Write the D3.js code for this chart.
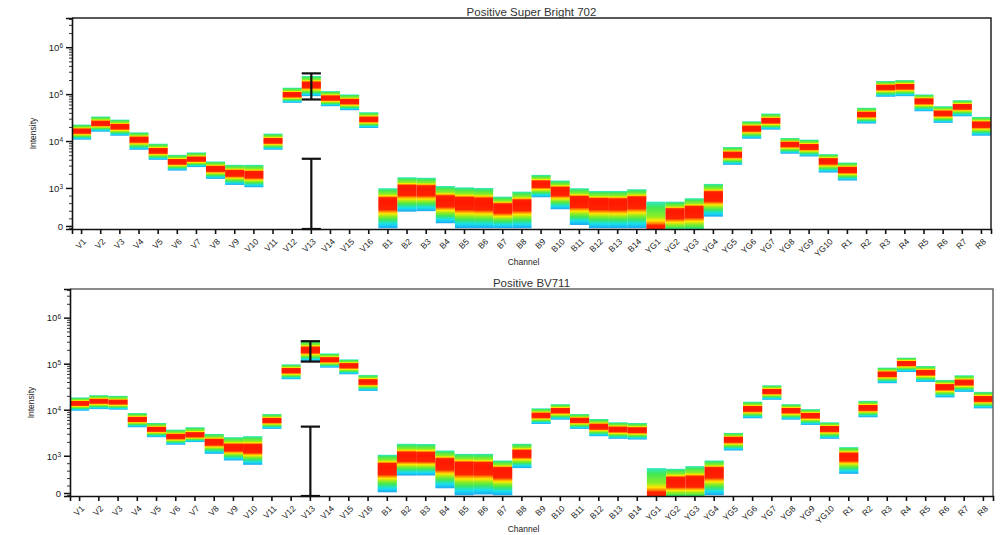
<!DOCTYPE html>
<html>
<head>
<meta charset="utf-8">
<script src="https://cdn.jsdelivr.net/npm/d3@7"></script>
<style>
  body { margin: 0; background: #ffffff; }
  svg { display: block; }
  text { font-family: "Liberation Sans", Arial, sans-serif; fill: #222; }
</style>
</head>
<body>
<svg id="chart" width="1005" height="535"></svg>
<script>
// Detector channels, laser by laser
const channels = [
  "V1","V2","V3","V4","V5","V6","V7","V8","V9","V10","V11","V12","V13","V14","V15","V16",
  "B1","B2","B3","B4","B5","B6","B7","B8","B9","B10","B11","B12","B13","B14",
  "YG1","YG2","YG3","YG4","YG5","YG6","YG7","YG8","YG9","YG10",
  "R1","R2","R3","R4","R5","R6","R7","R8"
];

// Positive Super Bright 702: median, upper and lower edge of each channel's distribution
const sb702Median = [16700,24400,20600,11100,6300,3660,4190,2640,2130,1970,10300,98400,161000,83600,70600,29600,
  639,986,970,684,639,620,508,597,1260,947,684,639,630,684,
  -250,376,421,816,5260,19000,27700,8770,7670,3850,
  2520,37900,144000,148000,73100,39900,55200,23200];
const sb702High = [22400,33300,28600,15300,8770,5080,5710,3660,3110,3110,14400,137000,243000,116000,98400,41100,
  992,1690,1650,1100,1030,1000,771,903,1900,1440,992,921,921,966,
  639,639,729,1220,7450,26400,38500,11600,10700,5260,
  3480,51100,190000,199000,98400,55200,74300,32700];
const sb702Low = [10700,15800,13000,6520,3980,2350,2780,1560,1160,1035,6520,65300,90400,55200,45400,19000,
  -60,376,390,71,-60,-60,-60,-60,755,439,26,-60,-60,-60,
  -600,-250,-250,245,3110,11200,17500,5360,4690,2130,
  1440,23600,87900,90400,43200,24400,33700,13000];
// Range markers on the peak channel
const sb702Ranges = [
  { channel: "V13", low: 76900, high: 277000 },
  { channel: "V13", low: -80, high: 4190 }
];

// Positive BV711
const bv711Median = [13900,15600,14900,6280,3830,2660,2840,2040,1540,1490,5980,71800,204000,124000,92000,40900,
  695,1015,1000,830,738,720,603,1160,7670,9840,6070,4370,3830,3690,
  -250,332,332,603,2330,10700,25600,9840,7670,3960,
  1015,11200,60900,105000,65900,31900,40100,17600];
const bv711High = [18500,20700,20000,8470,5150,3690,4160,2980,2530,2660,8050,96800,308000,167000,124000,56900,
  1050,1820,1800,1300,1100,1100,873,1820,10700,13200,8050,6280,5330,5150,
  668,649,721,873,3130,14900,34000,13200,10300,5330,
  1540,15600,82000,135000,88900,44400,56000,24400];
const bv711Low = [9500,10300,10000,4160,2530,1730,1980,1100,873,757,3830,45900,114000,82000,58900,25600,
  19,468,470,127,-60,-40,-60,668,4900,6070,3830,2660,2330,2250,
  -600,-250,-250,-60,1300,6510,16400,6070,4670,2330,
  514,6850,37600,65900,40100,18500,24400,10700];
const bv711Ranges = [
  { channel: "V13", low: 111000, high: 308000 },
  { channel: "V13", low: -80, high: 4290 }
];

// Intensity axis ticks
const majorTicks = [0, 1e3, 1e4, 1e5, 1e6];
const majorLabels = ["0", "10|3", "10|4", "10|5", "10|6"];

// Biexponential-style transform: logarithmic above 10^3, linear below it
const LIN_DECADES = 0.81;
const tf = v => v >= 1000 ? Math.log10(v) : 3 - LIN_DECADES * (1 - v / 1000);
const AXIS_MIN = -80, AXIS_MAX = 4194304;

const minorTicks = [];
[-50, 200, 400, 600, 800].forEach(v => minorTicks.push(v));
for (let e = 3; e <= 6; e++) for (let k = 2; k <= 9; k++) {
  const v = k * Math.pow(10, e);
  if (v <= AXIS_MAX) minorTicks.push(v);
}

const panels = [
  { id: "sb702", title: "Positive Super Bright 702", median: sb702Median, high: sb702High, low: sb702Low,
    ranges: sb702Ranges, box: { left: 72, right: 991, top: 18, bottom: 229 }, titleY: 16, frame: "#222" },
  { id: "bv711", title: "Positive BV711", median: bv711Median, high: bv711High, low: bv711Low,
    ranges: bv711Ranges, box: { left: 70, right: 993, top: 289, bottom: 496 }, titleY: 287, frame: "#666" }
];

// Colour ramp from the distribution edge in to the median
const outerStops = [
  [0.00, "#2fe9c9"], [0.16, "#3fe75a"], [0.44, "#8eec22"], [0.56, "#ffe800"],
  [0.64, "#ff8a00"], [0.70, "#ff2400"], [1.00, "#ff1800"]
];
const innerStops = [
  [0.00, "#ff1800"], [0.30, "#ff2400"], [0.37, "#ff8a00"], [0.45, "#ffe800"],
  [0.56, "#8eec22"], [0.68, "#3fe75a"], [0.84, "#17dfee"], [1.00, "#1ea6f2"]
];

const svg = d3.select("#chart");
const defs = svg.append("defs");

panels.forEach(p => {
  const b = p.box;
  const x = d3.scaleBand().domain(channels).range([b.left, b.right]).padding(0);
  const y = d3.scaleLinear().domain([tf(AXIS_MIN), Math.log10(AXIS_MAX)]).range([b.bottom, b.top]);
  const yv = v => y(tf(v));

  defs.append("clipPath").attr("id", "clip-" + p.id)
    .append("rect").attr("x", b.left).attr("y", b.top)
    .attr("width", b.right - b.left).attr("height", b.bottom - b.top);

  const g = svg.append("g");

  // Per-channel distribution bands
  const bands = g.append("g").attr("clip-path", `url(#clip-${p.id})`);
  channels.forEach((ch, i) => {
    const yTop = yv(p.high[i]), yBot = yv(p.low[i]), yMed = yv(p.median[i]);
    const h = yBot - yTop;
    const m = Math.max(0, Math.min(1, (yMed - yTop) / h));
    const gid = `grad-${p.id}-${i}`;
    const grad = defs.append("linearGradient").attr("id", gid)
      .attr("x1", 0).attr("y1", 0).attr("x2", 0).attr("y2", 1);
    outerStops.forEach(([o, c]) => grad.append("stop").attr("offset", o * m).attr("stop-color", c));
    innerStops.forEach(([o, c]) => grad.append("stop").attr("offset", m + o * (1 - m)).attr("stop-color", c));
    bands.append("rect")
      .attr("x", x(ch)).attr("y", yTop)
      .attr("width", x.bandwidth()).attr("height", h)
      .attr("fill", `url(#${gid})`);
  });

  // Range markers
  p.ranges.forEach(r => {
    const cx = x(r.channel) + x.bandwidth() / 2;
    const half = x.bandwidth() / 2;
    const y1 = yv(r.high), y2 = yv(r.low);
    const rg = g.append("g").attr("stroke", "#111").attr("stroke-width", 2.2);
    rg.append("line").attr("x1", cx).attr("x2", cx).attr("y1", y1).attr("y2", y2);
    rg.append("line").attr("x1", cx - half).attr("x2", cx + half).attr("y1", y1).attr("y2", y1);
    rg.append("line").attr("x1", cx - half).attr("x2", cx + half).attr("y1", y2).attr("y2", y2);
  });

  // Frame: top and right edges
  g.append("path")
    .attr("d", `M${b.left},${b.top}H${b.right}V${b.bottom}`)
    .attr("fill", "none").attr("stroke", p.frame).attr("stroke-width", 1.5);

  // Minor ticks on the intensity axis
  const minor = g.append("g").attr("transform", `translate(${b.left},0)`)
    .call(d3.axisLeft(y).tickValues(minorTicks.map(tf)).tickSize(3).tickFormat(""));
  minor.select(".domain").remove();
  minor.selectAll("line").attr("stroke", "#333");

  // Major ticks and labels
  const yAxis = g.append("g").attr("transform", `translate(${b.left},0)`)
    .call(d3.axisLeft(y).tickValues(majorTicks.map(tf)).tickSize(6).tickFormat(""));
  yAxis.select(".domain").attr("stroke", "#111").attr("stroke-width", 1.6);
  yAxis.selectAll("line").attr("stroke", "#111").attr("stroke-width", 1.5);
  yAxis.selectAll(".tick").each(function(d, i) {
    const parts = majorLabels[i].split("|");
    const t = d3.select(this).append("text")
      .attr("x", -9).attr("dy", "0.35em")
      .attr("text-anchor", "end").style("font-size", "9.5px").style("fill", "#222");
    t.append("tspan").text(parts[0]);
    if (parts[1]) t.append("tspan").attr("dy", "-0.45em").style("font-size", "6.5px").text(parts[1]);
  });

  // Channel axis
  const xAxis = g.append("g").attr("transform", `translate(0,${b.bottom})`)
    .call(d3.axisBottom(x).tickSize(5));
  xAxis.select(".domain").attr("stroke", "#111").attr("stroke-width", 1.6);
  xAxis.selectAll("line").attr("stroke", "#111").attr("stroke-width", 1.6);
  xAxis.selectAll("text")
    .attr("x", 0).attr("y", 0).attr("dy", "0.35em")
    .attr("transform", "translate(3,11) rotate(-45)")
    .attr("text-anchor", "end")
    .style("font-size", "8.5px").style("fill", "#222");

  // Titles
  const cx = (b.left + b.right) / 2;
  g.append("text").attr("x", cx).attr("y", p.titleY)
    .attr("text-anchor", "middle").style("font-size", "11.5px").style("fill", "#333")
    .text(p.title);
  g.append("text").attr("x", cx - 8).attr("y", b.bottom + 36)
    .attr("text-anchor", "middle").style("font-size", "8.5px").style("fill", "#222")
    .text("Channel");
  g.append("text")
    .attr("transform", `translate(${b.left - 36},${(b.top + b.bottom) / 2 + 10}) rotate(-90)`)
    .attr("text-anchor", "middle").style("font-size", "8.5px").style("fill", "#222")
    .text("Intensity");
});
</script>
</body>
</html>
